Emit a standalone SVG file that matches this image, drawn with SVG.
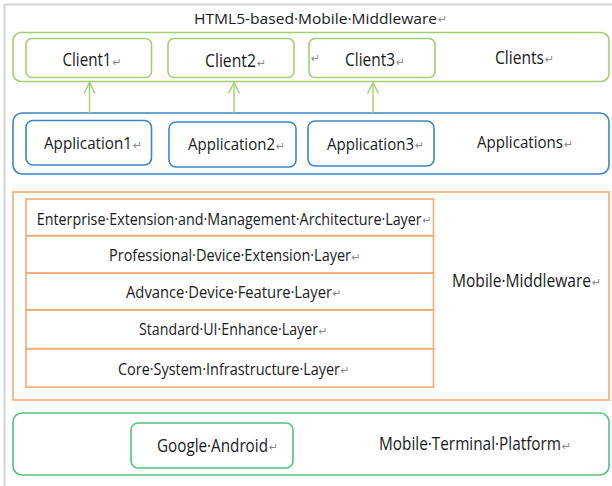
<svg xmlns="http://www.w3.org/2000/svg" width="612" height="486" viewBox="0 0 612 486">
<defs>
<style>
text{font-family:"Open Sans","Liberation Sans",sans-serif;fill:#1a1a1a}
text.r{fill:#8a8a8a;font-size:11px;font-family:"DejaVu Sans",sans-serif}
.g{fill:none;stroke:#9fd070;stroke-width:1.6}
.b{fill:none;stroke:#3a86c8;stroke-width:1.6}
.o{fill:none;stroke:#f7aa70;stroke-width:1.6}
.p{fill:none;stroke:#52c47e;stroke-width:1.6}
.c{stroke:#9fd070;stroke-width:1.4;fill:none}
</style>
<marker id="ah" viewBox="0 0 12 12" refX="11" refY="6" markerWidth="12" markerHeight="12" markerUnits="userSpaceOnUse" orient="auto">
<path d="M0,0.5 L11,6 L0,11.5" fill="none" stroke="#9fd070" stroke-width="1.4"/>
</marker>
</defs>
<rect width="612" height="486" fill="#ffffff"/>
<rect x="4.5" y="4.5" width="640" height="520" fill="none" stroke="#d4d4d4" stroke-width="2"/>
<g id="title">
<text transform="translate(194 24) scale(0.87 1)" font-size="15" textLength="279.3" lengthAdjust="spacingAndGlyphs">HTML5-based·Mobile·Middleware</text>
<text class="r" x="438" y="23">↵</text>
</g>

<g id="clients">
<rect class="g" x="13" y="32.5" width="596" height="49" rx="8"/>
<text transform="translate(495 63.5) scale(0.87 1)" font-size="18" textLength="56.3" lengthAdjust="spacingAndGlyphs">Clients</text>
<text class="r" x="545" y="63">↵</text>
</g>
<g id="client1">
<rect class="g" x="26" y="38.5" width="125.5" height="39" rx="6"/>
<text transform="translate(62.5 66) scale(0.87 1)" font-size="18" textLength="56.3" lengthAdjust="spacingAndGlyphs">Client1</text>
<text class="r" x="112.5" y="65.5">↵</text>
</g>
<g id="client2">
<rect class="g" x="168" y="38.5" width="126" height="39" rx="6"/>
<text transform="translate(205 67) scale(0.87 1)" font-size="18" textLength="58.6" lengthAdjust="spacingAndGlyphs">Client2</text>
<text class="r" x="257" y="66.5">↵</text>
</g>
<g id="client3">
<rect class="g" x="309" y="38.5" width="126" height="39" rx="6"/>
<text class="r" x="311" y="62">↵</text>
<text transform="translate(345 66) scale(0.87 1)" font-size="18" textLength="57.5" lengthAdjust="spacingAndGlyphs">Client3</text>
<text class="r" x="396" y="65.5">↵</text>
</g>

<g id="applications">
<rect class="b" x="13" y="113" width="596" height="61" rx="9"/>
<text transform="translate(477 148) scale(0.87 1)" font-size="17" textLength="98.9" lengthAdjust="spacingAndGlyphs">Applications</text>
<text class="r" x="564" y="147.5">↵</text>
</g>
<g id="app1">
<rect class="b" x="26" y="120.5" width="125.5" height="44.5" rx="7"/>
<text transform="translate(44 149) scale(0.87 1)" font-size="17" textLength="101.1" lengthAdjust="spacingAndGlyphs">Application1</text>
<text class="r" x="133" y="148.5">↵</text>
</g>
<g id="app2">
<rect class="b" x="169" y="122" width="127" height="45" rx="7"/>
<text transform="translate(188 150) scale(0.87 1)" font-size="17" textLength="100" lengthAdjust="spacingAndGlyphs">Application2</text>
<text class="r" x="276" y="149.5">↵</text>
</g>
<g id="app3">
<rect class="b" x="308" y="121" width="126" height="45" rx="7"/>
<text transform="translate(327 149.5) scale(0.87 1)" font-size="17" textLength="100" lengthAdjust="spacingAndGlyphs">Application3</text>
<text class="r" x="415" y="149">↵</text>
</g>

<g id="connectors">
<line class="c" x1="89.5" y1="113" x2="89.5" y2="82.5" marker-end="url(#ah)"/>
<line class="c" x1="234" y1="113" x2="234" y2="82.5" marker-end="url(#ah)"/>
<line class="c" x1="373" y1="113" x2="373" y2="82.5" marker-end="url(#ah)"/>
</g>

<g id="middleware">
<rect class="o" x="13" y="192" width="596" height="208"/>
<text transform="translate(452 286.5) scale(0.87 1)" font-size="18" textLength="159.8" lengthAdjust="spacingAndGlyphs">Mobile·Middleware</text>
<text class="r" x="592" y="286">↵</text>
</g>
<g id="layer1">
<rect class="o" x="26" y="199" width="407.5" height="36.7"/>
<text transform="translate(36.7 224.5) scale(0.87 1)" font-size="15.5" textLength="442.5" lengthAdjust="spacingAndGlyphs">Enterprise·Extension·and·Management·Architecture·Layer</text>
<text class="r" x="422.5" y="224">↵</text>
</g>
<g id="layer2">
<rect class="o" x="26" y="235.7" width="407.5" height="37.3"/>
<text transform="translate(109 261) scale(0.87 1)" font-size="15.5" textLength="278.2" lengthAdjust="spacingAndGlyphs">Professional·Device·Extension·Layer</text>
<text class="r" x="351.5" y="260.5">↵</text>
</g>
<g id="layer3">
<rect class="o" x="26" y="273" width="407.5" height="37"/>
<text transform="translate(126 297.5) scale(0.87 1)" font-size="15.5" textLength="236.8" lengthAdjust="spacingAndGlyphs">Advance·Device·Feature·Layer</text>
<text class="r" x="332.5" y="297">↵</text>
</g>
<g id="layer4">
<rect class="o" x="26" y="310" width="407.5" height="38.7"/>
<text transform="translate(139 335) scale(0.87 1)" font-size="15.5" textLength="205.7" lengthAdjust="spacingAndGlyphs">Standard·UI·Enhance·Layer</text>
<text class="r" x="318.5" y="334.5">↵</text>
</g>
<g id="layer5">
<rect class="o" x="26" y="348.7" width="407.5" height="38.5"/>
<text transform="translate(118 374.5) scale(0.87 1)" font-size="15.5" textLength="255.2" lengthAdjust="spacingAndGlyphs">Core·System·Infrastructure·Layer</text>
<text class="r" x="340.5" y="374">↵</text>
</g>

<g id="platform">
<rect class="p" x="13" y="413" width="596" height="62" rx="9"/>
<text transform="translate(379 450) scale(0.8 1)" font-size="18" textLength="227.5" lengthAdjust="spacingAndGlyphs">Mobile·Terminal·Platform</text>
<text class="r" x="562" y="449.5">↵</text>
</g>
<g id="android">
<rect class="p" x="131" y="423" width="162" height="45" rx="7"/>
<text transform="translate(157 451.5) scale(0.8 1)" font-size="18" textLength="138.7" lengthAdjust="spacingAndGlyphs">Google·Android</text>
<text class="r" x="269" y="451">↵</text>
</g>
</svg>
